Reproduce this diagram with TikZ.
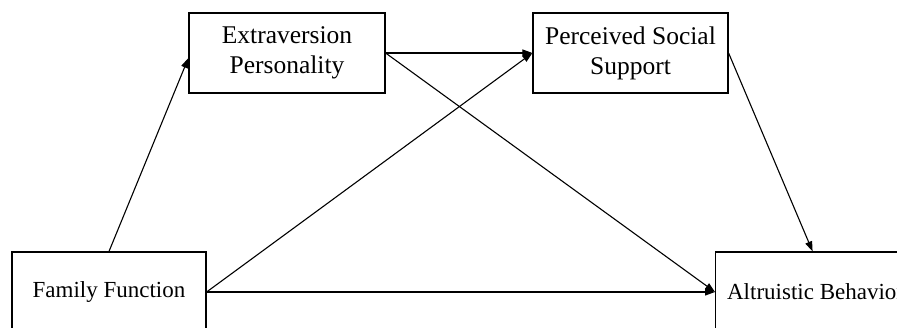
\documentclass[tikz,border=0pt]{standalone}
\usepackage{fontspec}
\setmainfont{Liberation Serif}
\usetikzlibrary{arrows.meta}
\tikzset{
  varbox/.style={draw, line width=1.2pt, minimum height=80pt, inner sep=4pt,
    align=center, font=\fontsize{25.5}{30}\selectfont},
  onebox/.style={varbox, font=\fontsize{23}{28}\selectfont},
  path/.style={line width=1.1pt, -{Triangle[length=10pt,width=7pt]}}
}
\begin{document}
\begin{tikzpicture}[x=1pt, y=-1pt]
    % frame of the figure
    \useasboundingbox (0,0) rectangle (897,327);
    \clip (0,0) rectangle (897,327);
    % variables
    \node[varbox, minimum width=196pt] (ext) at (287,53) {Extraversion\\Personality};
    \node[varbox, minimum width=195pt] (pss) at (630.5,53) {Perceived Social\\Support};
    \node[onebox, minimum width=194pt] (ff) at (109,292) {Family Function};
    \node[onebox, minimum width=200pt, anchor=west] (ab) at (715,292) {Altruistic Behavior};
    % paths
    \draw[path] (ff.north) -- ([yshift=-5pt]ext.west);
    \draw[path] (ext.east) -- (pss.west);
    \draw[path] (ext.east) -- (ab.west);
    \draw[path] (ff.east) -- (pss.west);
    \draw[path] (ff.east) -- (ab.west);
    \draw[path] (pss.east) -- ([xshift=-3pt]ab.north);
\end{tikzpicture}
\end{document}
